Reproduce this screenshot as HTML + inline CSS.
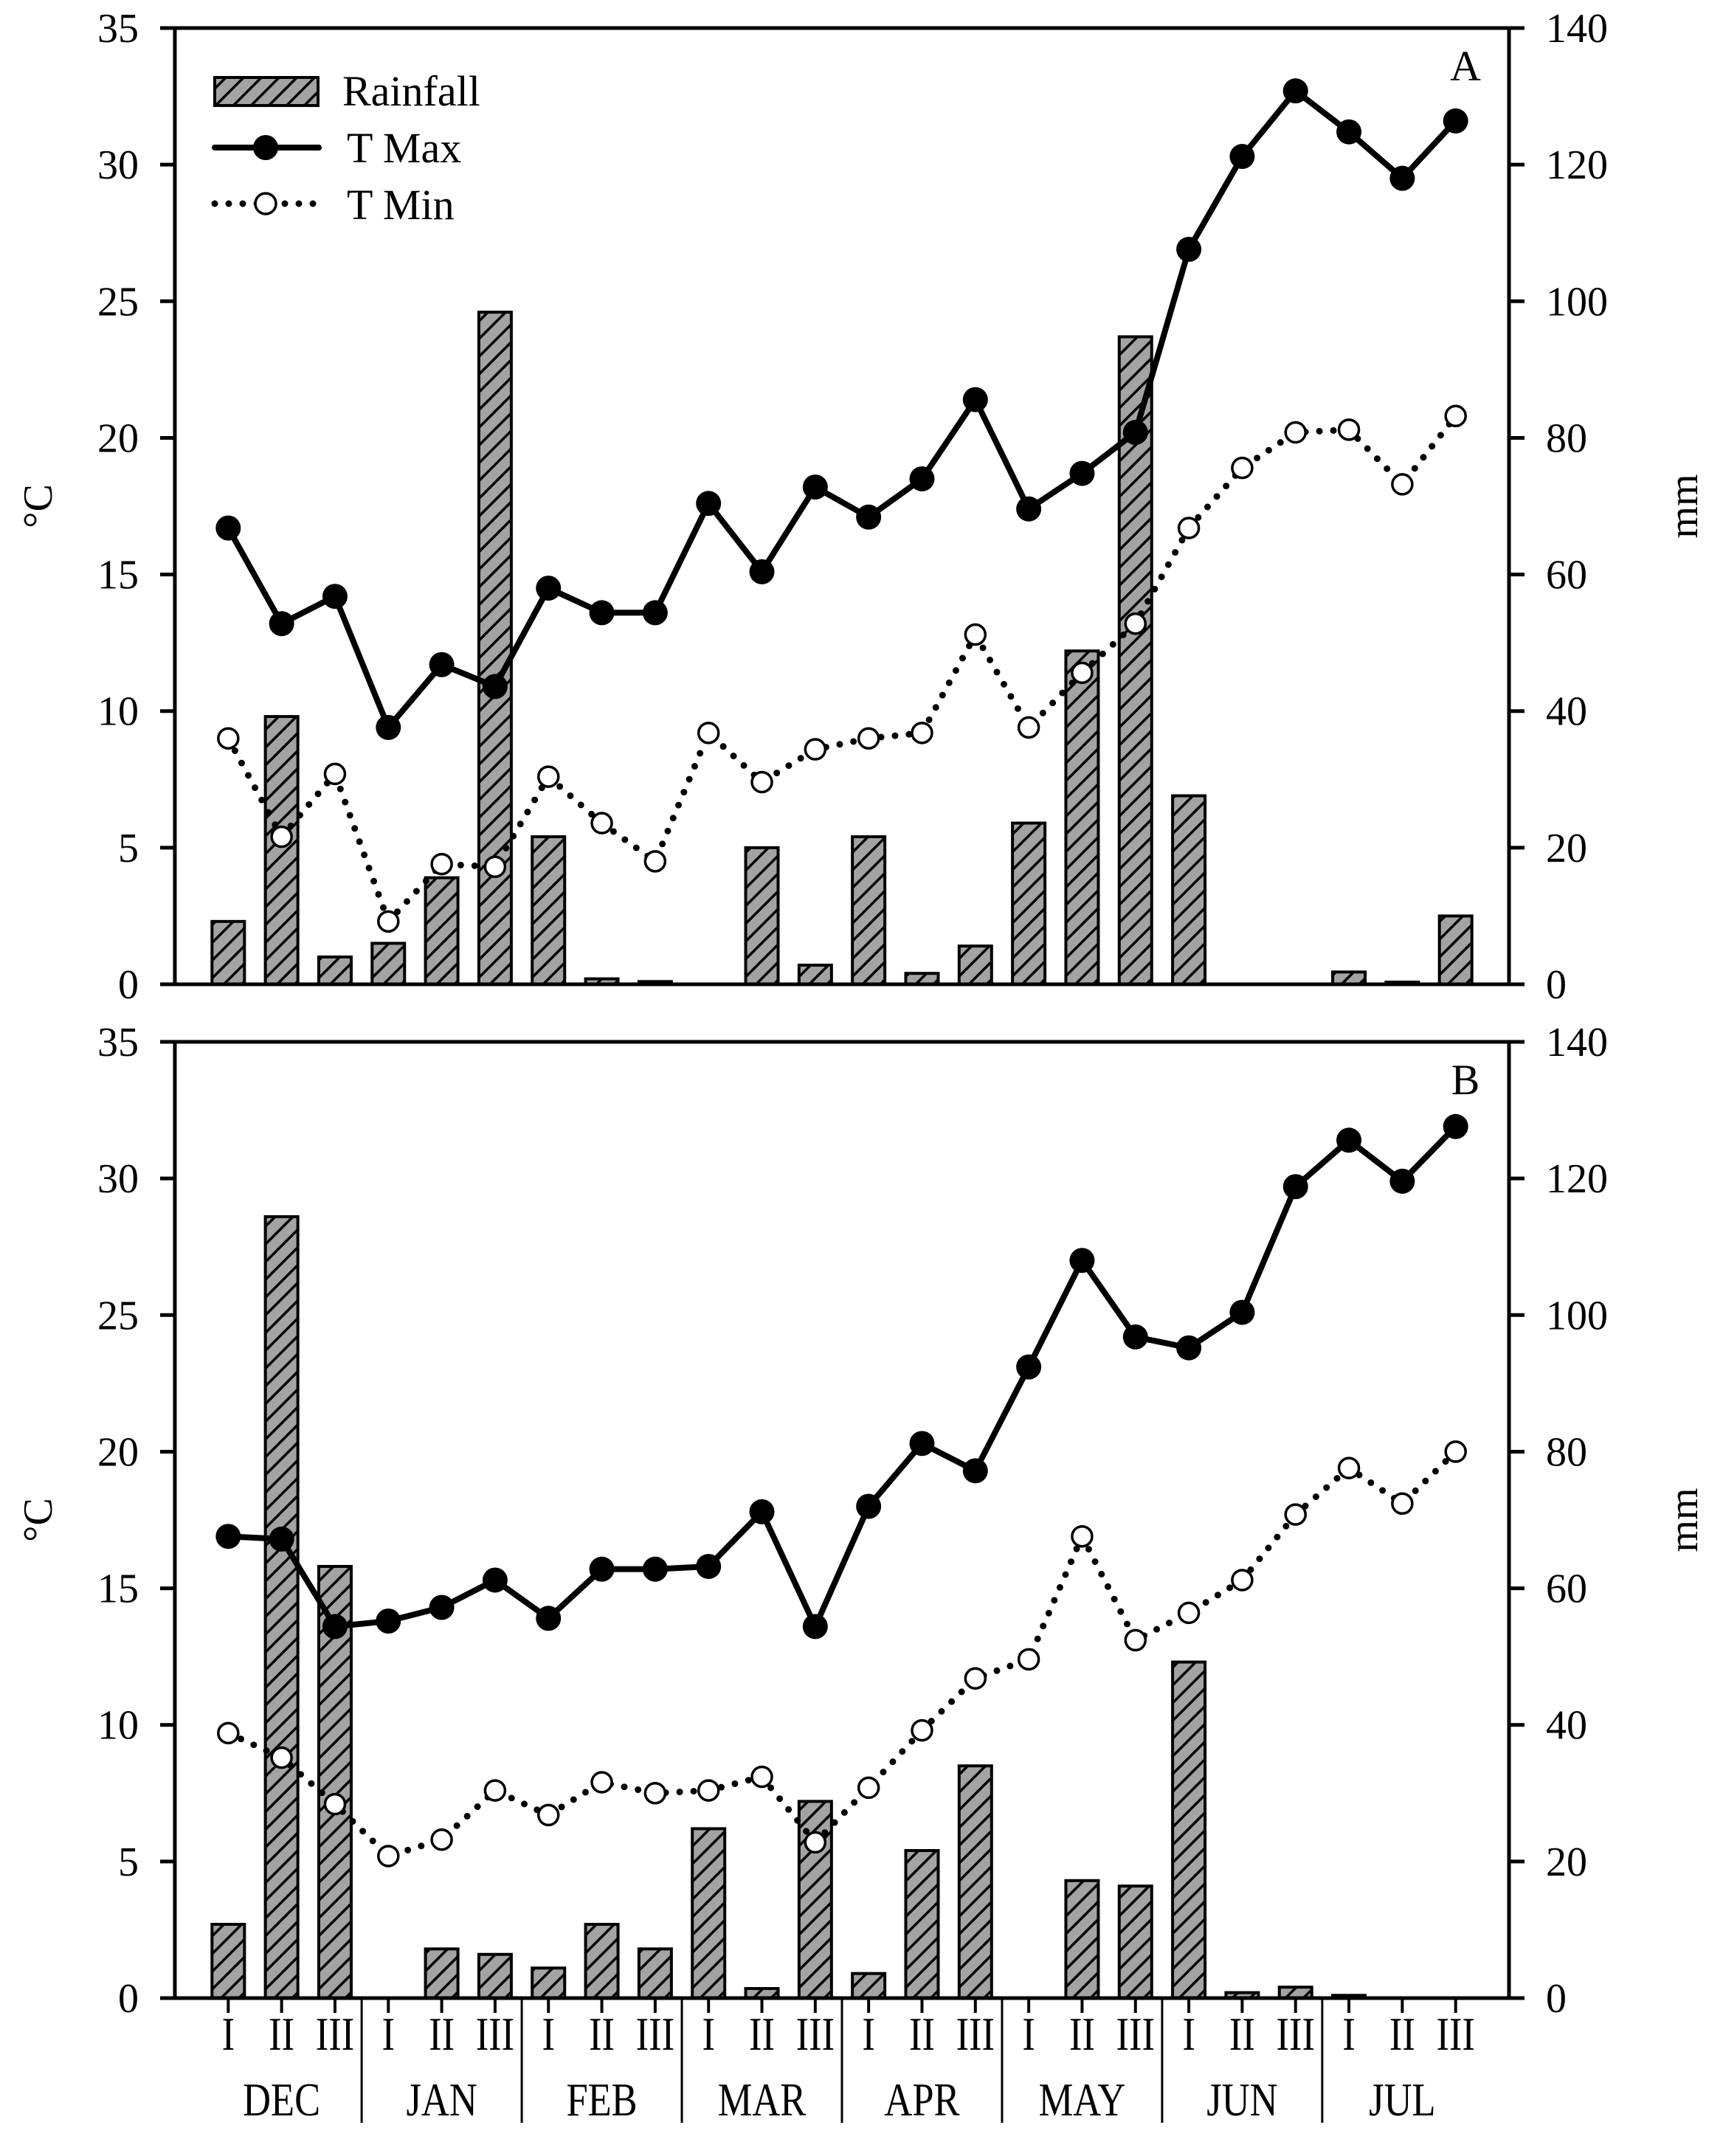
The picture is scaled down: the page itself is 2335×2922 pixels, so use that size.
<!DOCTYPE html>
<html><head><meta charset="utf-8"><style>html,body{margin:0;padding:0;background:#fff}svg{display:block}svg text{font-family:"Liberation Serif","Times New Roman",serif}</style></head>
<body>
<svg id="s" xmlns="http://www.w3.org/2000/svg" width="2335" height="2922" viewBox="0 0 2335 2922">
<defs>
<pattern id="h" patternUnits="userSpaceOnUse" width="17" height="17" patternTransform="rotate(45)">
<rect width="17" height="17" fill="#a3a3a3"/><rect x="0" y="0" width="3.5" height="17" fill="#000"/>
</pattern>
</defs>
</svg>
<script>
const s=document.getElementById('s');const NS='http://www.w3.org/2000/svg';
function el(t,a,txt){const e=document.createElementNS(NS,t);for(const k in a)e.setAttribute(k,a[k]);if(txt!==undefined)e.textContent=txt;s.appendChild(e);return e;}
const L=237,R=2045,step=72.32,K=1296/35;
function cx(i){return L+step*(i+1);}
function panel(top,tmax,tmin,rain,letter){
  const bot=top+1296;
  rain.forEach((v,i)=>{if(v<=0)return;const h=v*K;el('rect',{x:cx(i)-22,y:bot-h,width:44,height:h,fill:'url(#h)',stroke:'#000','stroke-width':4});});
  let p=tmin.map((v,i)=>cx(i)+','+(bot-v*K)).join(' ');
  el('polyline',{points:p,fill:'none',stroke:'#000','stroke-width':9,'stroke-dasharray':'0 19','stroke-linecap':'round'});
  tmin.forEach((v,i)=>el('circle',{cx:cx(i),cy:bot-v*K,r:13.5,fill:'#fff',stroke:'#000','stroke-width':3.5}));
  p=tmax.map((v,i)=>cx(i)+','+(bot-v*K)).join(' ');
  el('polyline',{points:p,fill:'none',stroke:'#000','stroke-width':8,'stroke-linejoin':'round'});
  tmax.forEach((v,i)=>el('circle',{cx:cx(i),cy:bot-v*K,r:17,fill:'#000'}));
  el('rect',{x:L,y:top,width:R-L,height:1296,fill:'none',stroke:'#000','stroke-width':5});
  for(let k=0;k<=7;k++){const y=bot-k*185.14;
    el('line',{x1:L-20,y1:y,x2:L,y2:y,stroke:'#000','stroke-width':5});
    el('line',{x1:R,y1:y,x2:R+21,y2:y,stroke:'#000','stroke-width':5});
    el('text',{x:188,y:y+19,'font-size':56,'text-anchor':'end'},String(k*5));
    el('text',{x:2095,y:y+19,'font-size':56},String(k*20));
  }
  el('text',{x:0,y:0,'font-size':56,'text-anchor':'middle',transform:`translate(70,${top+648}) rotate(-90)`},'°C');
  el('text',{x:0,y:0,'font-size':56,'text-anchor':'middle',transform:`translate(2300,${top+648}) rotate(-90)`},'mm');
  el('text',{x:1986,y:top+71,'font-size':58,'text-anchor':'middle'},letter);
}
panel(38,
[16.7,13.2,14.2,9.4,11.7,10.9,14.5,13.6,13.6,17.6,15.1,18.2,17.1,18.5,21.4,17.4,18.7,20.2,26.9,30.3,32.7,31.2,29.5,31.6],
[9.0,5.4,7.7,2.3,4.4,4.3,7.6,5.9,4.5,9.2,7.4,8.6,9.0,9.2,12.8,9.4,11.4,13.2,16.7,18.9,20.2,20.3,18.3,20.8],
[2.3,9.8,1.0,1.5,3.9,24.6,5.4,0.2,0.1,0,5.0,0.7,5.4,0.4,1.4,5.9,12.2,23.7,6.9,0,0,0.45,0.08,2.5],'A');
panel(1412,
[16.9,16.8,13.6,13.8,14.3,15.3,13.9,15.7,15.7,15.8,17.8,13.6,18.0,20.3,19.3,23.1,27.0,24.2,23.8,25.1,29.7,31.4,29.9,31.9],
[9.7,8.8,7.1,5.2,5.8,7.6,6.7,7.9,7.5,7.6,8.1,5.7,7.7,9.8,11.7,12.4,16.9,13.1,14.1,15.3,17.7,19.4,18.1,20.0],
[2.7,28.6,15.8,0,1.8,1.6,1.1,2.7,1.8,6.2,0.35,7.2,0.9,5.4,8.5,0,4.3,4.1,12.3,0.2,0.4,0.1,0,0],'B');
el('rect',{x:291,y:105,width:140,height:38,fill:'url(#h)',stroke:'#000','stroke-width':4});
el('text',{x:464,y:143,'font-size':58},'Rainfall');
el('line',{x1:291,y1:200,x2:432,y2:200,stroke:'#000','stroke-width':8,'stroke-linecap':'round'});
el('circle',{cx:360,cy:200,r:17,fill:'#000'});
el('text',{x:470,y:220,'font-size':58},'T Max');
el('line',{x1:291,y1:276,x2:432,y2:276,stroke:'#000','stroke-width':9,'stroke-dasharray':'0 19','stroke-linecap':'round'});
el('circle',{cx:360,cy:276,r:14,fill:'#fff',stroke:'#000','stroke-width':3.5});
el('text',{x:470,y:297,'font-size':58},'T Min');
const rom=['I','II','III'],mon=['DEC','JAN','FEB','MAR','APR','MAY','JUN','JUL'];
for(let i=0;i<24;i++){const x=cx(i);
  el('line',{x1:x,y1:2708,x2:x,y2:2728,stroke:'#000','stroke-width':4});
  el('text',{x:0,y:0,'font-size':64,'text-anchor':'middle',transform:`translate(${x},2778) scale(0.82,1)`},rom[i%3]);
}
for(let m=0;m<8;m++){
  if(m<7){const x=L+step*(3*m+3.5);el('line',{x1:x,y1:2708,x2:x,y2:2877,stroke:'#000','stroke-width':3});}
  el('text',{x:0,y:0,'font-size':64,'text-anchor':'middle',transform:`translate(${cx(3*m+1)},2867) scale(0.82,1)`},mon[m]);
}
</script>
</body></html>
